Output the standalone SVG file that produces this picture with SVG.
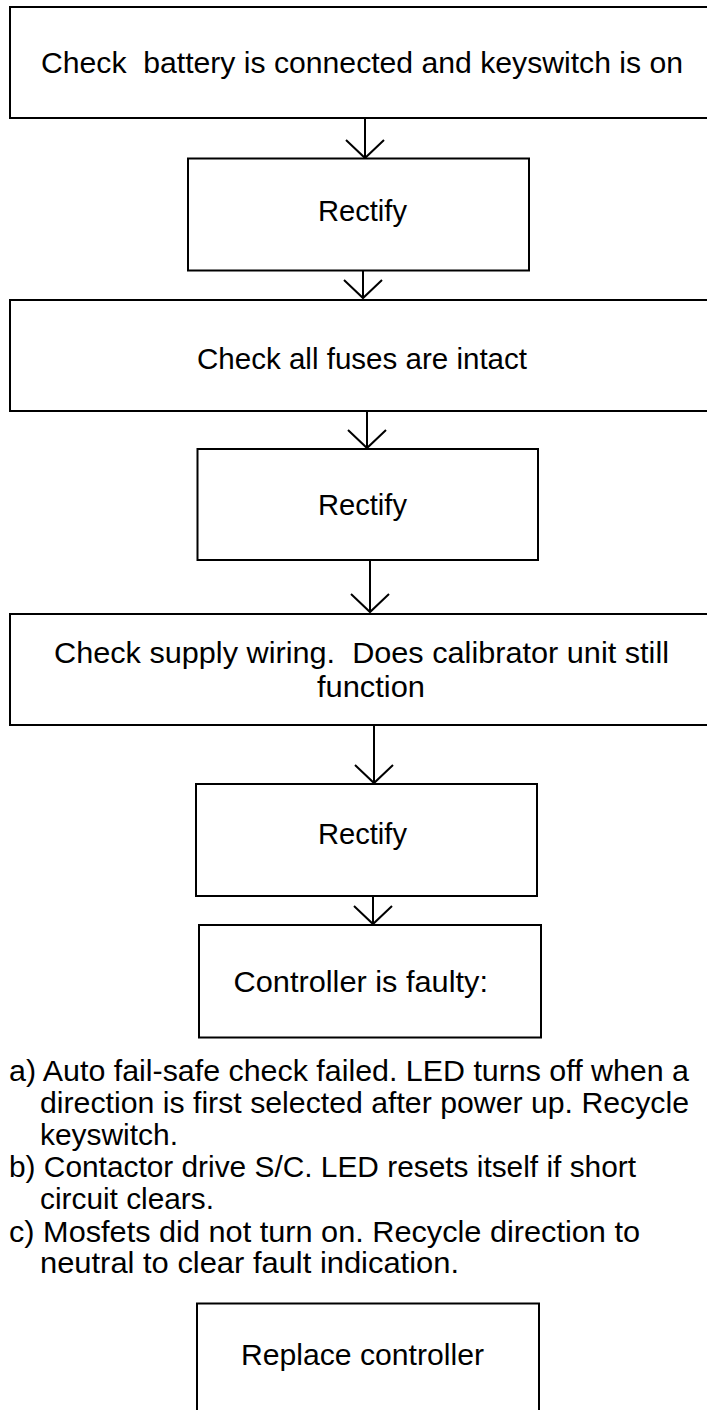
<svg xmlns="http://www.w3.org/2000/svg" width="707" height="1410" viewBox="0 0 707 1410">
<defs>
<marker id="vhead" markerUnits="userSpaceOnUse" markerWidth="40" markerHeight="40" refX="0" refY="0" orient="auto" overflow="visible" viewBox="-20 -20 40 40">
<path d="M-18,-19 L0,0 L-18,19" fill="none" stroke="#000" stroke-width="2"/>
</marker>
</defs>
<style>
.box{fill:#fff;stroke:#000;stroke-width:2}
.t{font-family:"Liberation Sans",Arial,sans-serif;font-size:29px;fill:#000;white-space:pre}
.c{stroke:#000;stroke-width:2;fill:none;marker-end:url(#vhead)}
</style>
<rect width="707" height="1410" fill="#fff"/>
<g id="connectors">
<line class="c" x1="365" y1="118" x2="365" y2="158"/>
<line class="c" x1="363" y1="271" x2="363" y2="298"/>
<line class="c" x1="367" y1="411" x2="367" y2="448"/>
<line class="c" x1="370" y1="560" x2="370" y2="612"/>
<line class="c" x1="374" y1="725" x2="374" y2="783"/>
<line class="c" x1="373" y1="896" x2="373" y2="924"/>
</g>
<g id="n1">
<rect class="box" x="10" y="7" width="720" height="111"/>
<text class="t" x="41" y="73" textLength="642" lengthAdjust="spacingAndGlyphs">Check  battery is connected and keyswitch is on</text>
</g>
<g id="n2">
<rect class="box" x="188" y="158.5" width="341" height="112"/>
<text class="t" x="318" y="221" textLength="89" lengthAdjust="spacingAndGlyphs">Rectify</text>
</g>
<g id="n3">
<rect class="box" x="10" y="300" width="720" height="111"/>
<text class="t" x="197" y="369" textLength="330" lengthAdjust="spacingAndGlyphs">Check all fuses are intact</text>
</g>
<g id="n4">
<rect class="box" x="197.5" y="449" width="340.5" height="111"/>
<text class="t" x="318" y="515" textLength="89" lengthAdjust="spacingAndGlyphs">Rectify</text>
</g>
<g id="n5">
<rect class="box" x="10" y="614" width="720" height="111"/>
<text class="t" x="54" y="663" textLength="615" lengthAdjust="spacingAndGlyphs">Check supply wiring.  Does calibrator unit still</text>
<text class="t" x="317" y="697" textLength="108" lengthAdjust="spacingAndGlyphs">function</text>
</g>
<g id="n6">
<rect class="box" x="196" y="784" width="341" height="112"/>
<text class="t" x="318" y="844" textLength="89" lengthAdjust="spacingAndGlyphs">Rectify</text>
</g>
<g id="n7">
<rect class="box" x="199" y="925" width="342" height="112.5"/>
<text class="t" x="233.5" y="991.5" textLength="254.5" lengthAdjust="spacingAndGlyphs">Controller is faulty:</text>
</g>
<g id="notes">
<text class="t" x="9" y="1081" textLength="680" lengthAdjust="spacingAndGlyphs">a) Auto fail-safe check failed. LED turns off when a</text>
<text class="t" x="40" y="1113" textLength="649" lengthAdjust="spacingAndGlyphs">direction is first selected after power up. Recycle</text>
<text class="t" x="40" y="1145" textLength="138" lengthAdjust="spacingAndGlyphs">keyswitch.</text>
<text class="t" x="9" y="1177" textLength="627" lengthAdjust="spacingAndGlyphs">b) Contactor drive S/C. LED resets itself if short</text>
<text class="t" x="40" y="1209" textLength="174" lengthAdjust="spacingAndGlyphs">circuit clears.</text>
<text class="t" x="9" y="1242" textLength="631" lengthAdjust="spacingAndGlyphs">c) Mosfets did not turn on. Recycle direction to</text>
<text class="t" x="40" y="1273" textLength="419" lengthAdjust="spacingAndGlyphs">neutral to clear fault indication.</text>
</g>
<g id="n8">
<rect class="box" x="197" y="1303.5" width="342" height="130"/>
<text class="t" x="241" y="1365" textLength="243" lengthAdjust="spacingAndGlyphs">Replace controller</text>
</g>
</svg>
